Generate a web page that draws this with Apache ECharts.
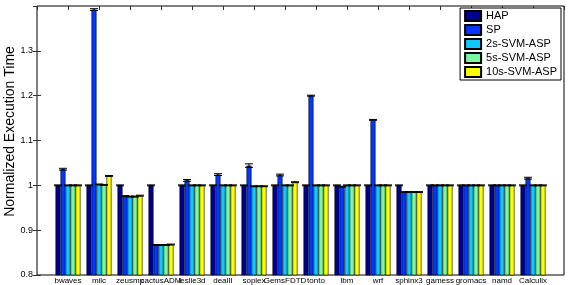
<!DOCTYPE html>
<html>
<head>
<meta charset="utf-8">
<script src="https://cdn.jsdelivr.net/npm/echarts@6/dist/echarts.min.js"></script>
<style>
	html, body { margin: 0; padding: 0; background: #fff; }
	#main { width: 568px; height: 285px; }
</style>
</head>
<body>
<div id="main"></div>
<script>
// 基准程序名称
var benchmarks = ['bwaves', 'milc', 'zeusmp', 'cactusADM', 'leslie3d', 'dealII', 'soplex', 'GemsFDTD',
	'tonto', 'lbm', 'wrf', 'sphinx3', 'gamess', 'gromacs', 'namd', 'Calculix'];

// 图例名称
var seriesNames = ['HAP', 'SP', '2s-SVM-ASP', '5s-SVM-ASP', '10s-SVM-ASP'];

var seriesColors = ['#00008f', '#0038ff', '#10c8ff', '#78f8a0', '#ffff00'];

// 归一化执行时间
var hapData = [1.0, 1.0, 1.0, 1.0, 1.0, 1.0, 1.0, 1.0, 1.0, 1.0, 1.0, 1.0, 1.0, 1.0, 1.0, 1.0];
var spData = [1.036, 1.392, 0.976, 0.867, 1.011, 1.024, 1.044, 1.023, 1.2, 0.997, 1.146, 0.985, 1.0, 1.0, 1.0, 1.016];
var svm2Data = [1.0, 1.002, 0.975, 0.867, 1.0, 1.0, 0.998, 1.0, 1.0, 1.0, 1.0, 0.985, 1.0, 1.0, 1.0, 1.0];
var svm5Data = [1.0, 1.001, 0.975, 0.867, 1.0, 1.0, 0.998, 1.0, 1.0, 1.0, 1.0, 0.985, 1.0, 1.0, 1.0, 1.0];
var svm10Data = [1.0, 1.021, 0.977, 0.868, 1.0, 1.0, 0.998, 1.007, 1.0, 1.0, 1.0, 0.985, 1.0, 1.0, 1.0, 1.0];

// 误差
var hapErr = [0.001, 0.001, 0.001, 0.001, 0.001, 0.001, 0.001, 0.001, 0.001, 0.001, 0.001, 0.001, 0.001, 0.001, 0.001, 0.001];
var spErr = [0.002, 0.002, 0.001, 0.001, 0.002, 0.002, 0.004, 0.002, 0.001, 0.001, 0.001, 0.001, 0.001, 0.001, 0.001, 0.002];
var svm2Err = [0.001, 0.001, 0.001, 0.001, 0.001, 0.001, 0.001, 0.001, 0.001, 0.001, 0.001, 0.001, 0.001, 0.001, 0.001, 0.001];
var svm5Err = [0.001, 0.001, 0.001, 0.001, 0.001, 0.001, 0.001, 0.001, 0.001, 0.001, 0.001, 0.001, 0.001, 0.001, 0.001, 0.001];
var svm10Err = [0.001, 0.001, 0.001, 0.001, 0.001, 0.001, 0.001, 0.001, 0.001, 0.001, 0.001, 0.001, 0.001, 0.001, 0.001, 0.001];

var allData = [hapData, spData, svm2Data, svm5Data, svm10Data];
var allErr = [hapErr, spErr, svm2Err, svm5Err, svm10Err];

var barW = 5;
var fontName = 'Liberation Sans, Arial, sans-serif';

function makeErrorSeries(s) {
	var off = (s - 2) * barW;
	return {
		name: seriesNames[s] + '_err',
		type: 'custom',
		z: 5,
		silent: true,
		data: allData[s].map(function(v, i) { return [i + 1, v, allErr[s][i]]; }),
		renderItem: function(params, api) {
			var x = api.value(0), y = api.value(1), e = api.value(2);
			var hi = api.coord([x, y + e]);
			var lo = api.coord([x, y - e]);
			var cx = hi[0] + off;
			var st = { stroke: '#000', lineWidth: 1 };
			return {
				type: 'group',
				children: [
					{ type: 'line', shape: { x1: cx, y1: hi[1], x2: cx, y2: lo[1] }, style: st },
					{ type: 'line', shape: { x1: cx - 4, y1: hi[1], x2: cx + 4, y2: hi[1] }, style: st },
					{ type: 'line', shape: { x1: cx - 4, y1: lo[1], x2: cx + 4, y2: lo[1] }, style: st }
				]
			};
		}
	};
}

var series = [];
for (var s = 0; s < seriesNames.length; s++) {
	series.push({
		name: seriesNames[s],
		type: 'bar',
		barWidth: barW,
		barGap: '0%',
		itemStyle: {
			color: seriesColors[s],
			borderColor: '#000',
			borderWidth: 0.6
		},
		data: allData[s].map(function(v, i) { return [i + 1, v]; })
	});
}
for (var s = 0; s < seriesNames.length; s++) {
	series.push(makeErrorSeries(s));
}

var tickStyle = { show: true, inside: true, length: 4, lineStyle: { color: '#333', width: 1 } };

var option = {
	animation: false,
	backgroundColor: '#fff',
	grid: {
		left: 37,
		right: 4,
		top: 6,
		bottom: 10,
		containLabel: false,
		outerBoundsMode: 'none',
		show: true,
		borderColor: '#000',
		borderWidth: 1
	},
	legend: {
		data: seriesNames,
		orient: 'vertical',
		right: 7,
		top: 8,
		icon: 'rect',
		itemWidth: 16,
		itemHeight: 10,
		itemGap: 2,
		padding: [2, 4, 2, 4],
		backgroundColor: '#fff',
		borderColor: '#000',
		borderWidth: 1,
		textStyle: { fontFamily: fontName, fontSize: 11, color: '#000', lineHeight: 11 }
	},
	xAxis: [{
		type: 'value',
		min: 0,
		max: 17,
		interval: 1,
		position: 'bottom',
		splitLine: { show: false },
		axisLine: { show: false },
		axisTick: tickStyle,
		axisLabel: {
			fontFamily: fontName,
			fontSize: 8,
			color: '#000',
			margin: 2,
			showMinLabel: false,
			showMaxLabel: false,
			formatter: function(v) {
				return benchmarks[v - 1] || '';
			}
		}
	}, {
		type: 'value',
		min: 0,
		max: 17,
		interval: 1,
		position: 'top',
		splitLine: { show: false },
		axisLine: { show: false },
		axisTick: tickStyle,
		axisLabel: { show: false }
	}],
	yAxis: [{
		type: 'value',
		min: 0.8,
		max: 1.4,
		interval: 0.1,
		name: 'Normalized Execution Time',
		nameLocation: 'middle',
		nameGap: 20,
		nameMoveOverlap: false,
		nameTextStyle: { fontFamily: fontName, fontSize: 14, color: '#000', padding: [0, 0, 0, 18] },
		splitLine: { show: false },
		axisLine: { show: false },
		axisTick: tickStyle,
		axisLabel: {
			fontFamily: fontName,
			fontSize: 9,
			color: '#000',
			margin: 4,
			showMaxLabel: false,
			formatter: function(v) {
				return String(+v.toFixed(1));
			}
		}
	}, {
		type: 'value',
		min: 0.8,
		max: 1.4,
		interval: 0.1,
		position: 'right',
		splitLine: { show: false },
		axisLine: { show: false },
		axisTick: tickStyle,
		axisLabel: { show: false }
	}],
	series: series
};

var myChart = echarts.init(document.getElementById('main'));
myChart.setOption(option);
</script>
</body>
</html>
